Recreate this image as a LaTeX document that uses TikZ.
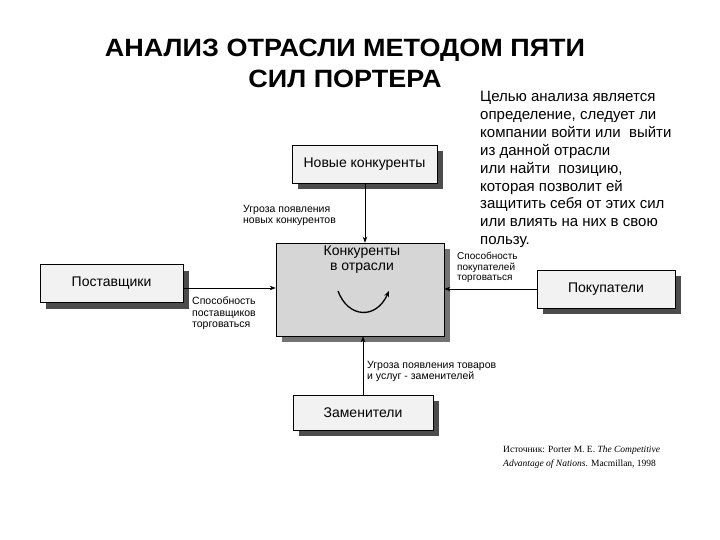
\documentclass[tikz,border=0pt]{standalone}
\usepackage{fontspec}
\setmainfont{Liberation Sans}
\newfontfamily\srcfont{Liberation Serif}
\newfontfamily\titlefont[FakeStretch=1.08]{Liberation Sans}
\usetikzlibrary{arrows.meta,shadows,calc}
\begin{document}
\begin{tikzpicture}[x=1pt,y=-1pt,
  box/.style={draw=black, line width=0.6pt, fill=black!5, inner sep=0pt,
    font=\fontsize{14}{16}\selectfont,
    drop shadow={shadow xshift=6pt, shadow yshift=-6pt, fill=black!70, opacity=1}},
  lbl/.style={anchor=north west, inner sep=0pt, align=left, font=\fontsize{10.5}{11.5}\selectfont},
  src/.style={anchor=base west, inner sep=0pt, font=\srcfont\fontsize{9.5}{11}\selectfont},
  arr/.style={line width=0.7pt, -{Stealth[length=6pt,width=4.5pt]}}]
\useasboundingbox (0,0) rectangle (720,540);
% title
\node[anchor=north, inner sep=0pt, align=center, font=\titlefont\fontsize{25}{31}\selectfont\bfseries] (title) at (345,39)
  {АНАЛИЗ ОТРАСЛИ МЕТОДОМ ПЯТИ\\СИЛ ПОРТЕРА};
% right text
\node[anchor=north west, inner sep=0pt, align=left, font=\fontsize{15}{17.9}\selectfont] (goal) at (480,91)
  {Целью анализа является\\определение, следует ли\\компании войти или\ \ выйти\\из данной отрасли\\или найти\ \ позицию,\\которая позволит ей\\защитить себя от этих сил\\или влиять на них в свою\\пользу.};
% boxes
\node[box, minimum width=145, minimum height=38] (newc) at (364.5,164) {Новые конкуренты};
\node[box, fill=black!16, minimum width=168, minimum height=93,
  drop shadow={shadow xshift=6pt, shadow yshift=-6pt, fill=black!55, opacity=1}] (big) at (360,289.5) {};
\node[anchor=north, inner sep=0pt, align=center, font=\fontsize{14}{15}\selectfont] (bigtxt) at (362,246) {Конкуренты\\в отрасли};
\node[box, minimum width=143, minimum height=38] (supp) at (111.5,283.5) {Поставщики};
\node[box, minimum width=138, minimum height=38] (buy) at (606,289) {Покупатели};
\node[box, minimum width=140, minimum height=35] (subs) at (363,412.5) {Заменители};
% connectors
\coordinate (topc) at (365,0);
\coordinate (botc) at (363,0);
\coordinate (lc) at (0,288);
\draw[arr] (newc.south -| topc) -- (big.north -| topc);
\draw[arr] (subs.north -| botc) -- (big.south -| botc);
\draw[arr] (supp.east |- lc) -- (big.west |- lc);
\draw[arr] (buy.west) -- (buy.west -| big.east);
\coordinate (ca) at (338,291);
\coordinate (cb) at (389,291);
\draw[line width=1.3pt, -{Stealth[length=6pt,width=5pt]}] (ca) .. controls (348,318) and (376,320) .. (cb);
% labels
\node[lbl] (l1) at (243,205) {Угроза появления\\новых конкурентов};
\node[lbl] (l2) at (192,297) {Способность\\поставщиков\\торговаться};
\node[lbl, font=\fontsize{10}{10.5}\selectfont] (l3) at (457,252) {Способность\\покупателей\\торговаться};
\node[lbl] (l4) at (367,361) {Угроза появления товаров\\и услуг - заменителей};
\node[src] (src1) at (503,452) {Источник: Porter M. E. \textit{The Competitive}};
\node[src] (src2) at (503,466) {\textit{Advantage of Nations}. Macmillan, 1998};
\end{tikzpicture}
\end{document}
